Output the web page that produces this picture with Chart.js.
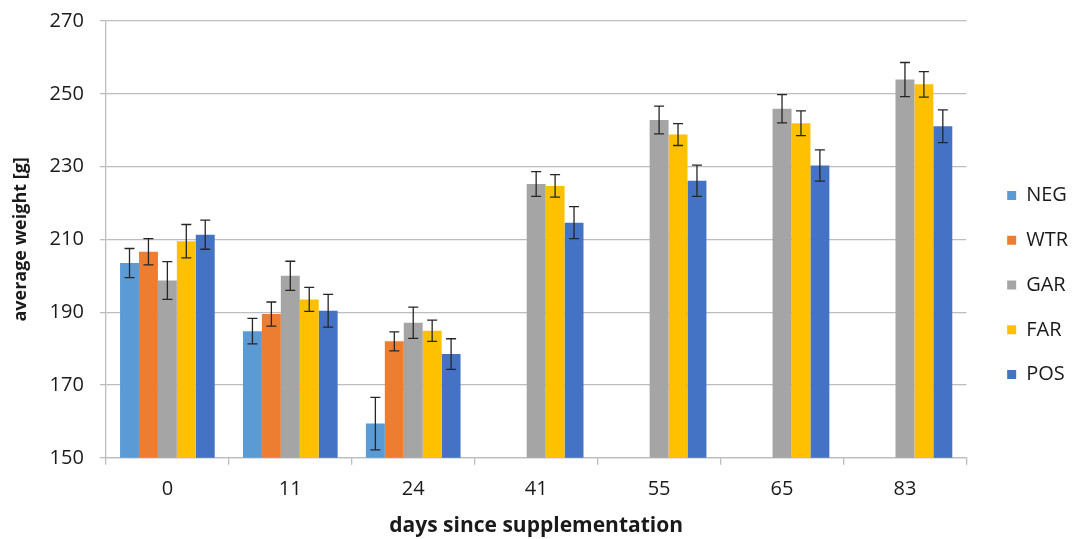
<!DOCTYPE html>
<html>
<head>
<meta charset="utf-8">
<script src="https://cdn.jsdelivr.net/npm/chart.js@4"></script>
<style>
  body { margin: 0; background: #fff; }
  #wrap { width: 1076px; height: 539px; }
</style>
</head>
<body>
<div id="wrap"><canvas id="weightChart"></canvas></div>
<script>
  const days = ['0', '11', '24', '41', '55', '65', '83'];

  const negMeans = [203.5, 184.8, 159.4, null, null, null, null];
  const wtrMeans = [206.6, 189.5, 182.0, null, null, null, null];
  const garMeans = [198.7, 200.0, 187.1, 225.2, 242.8, 245.9, 253.9];
  const farMeans = [209.5, 193.5, 184.9, 224.7, 238.8, 241.9, 252.6];
  const posMeans = [211.3, 190.4, 178.5, 214.6, 226.1, 230.3, 241.1];

  const negErr = [4.0, 3.5, 7.2, null, null, null, null];
  const wtrErr = [3.6, 3.3, 2.6, null, null, null, null];
  const garErr = [5.2, 4.0, 4.3, 3.4, 3.8, 3.9, 4.7];
  const farErr = [4.6, 3.3, 2.9, 3.1, 3.0, 3.4, 3.5];
  const posErr = [4.0, 4.5, 4.2, 4.4, 4.3, 4.3, 4.5];

  const yTicks = [150, 170, 190, 210, 230, 250, 270];

  const textColor = '#1a1a1a';
  const gridColor = '#bdbdbd';
  const fontFamily = '"Open Sans", sans-serif';

  // whiskers drawn on top of bars, using the y scale
  const errorBars = {
    id: 'errorBars',
    afterDatasetsDraw(chart) {
      const ctx = chart.ctx;
      const yScale = chart.scales.y;
      ctx.save();
      ctx.strokeStyle = '#262626';
      ctx.lineWidth = 1.3;
      chart.data.datasets.forEach((ds, i) => {
        const meta = chart.getDatasetMeta(i);
        meta.data.forEach((bar, j) => {
          const v = ds.data[j];
          const e = ds.errors[j];
          if (v == null || e == null) return;
          const x = bar.x;
          const top = yScale.getPixelForValue(v + e);
          const bottom = yScale.getPixelForValue(v - e);
          ctx.beginPath();
          ctx.moveTo(x, top);
          ctx.lineTo(x, bottom);
          ctx.moveTo(x - 5, top);
          ctx.lineTo(x + 5, top);
          ctx.moveTo(x - 5, bottom);
          ctx.lineTo(x + 5, bottom);
          ctx.stroke();
        });
      });
      ctx.restore();
    }
  };

  // push the legend a bit away from the plot area
  const legendShift = {
    id: 'legendShift',
    afterLayout(chart) {
      chart.legend.left += 16;
      chart.legend.right += 16;
    }
  };

  const ctx = document.getElementById('weightChart').getContext('2d');
  new Chart(ctx, {
    type: 'bar',
    data: {
      labels: days,
      datasets: [
        { label: 'NEG', data: negMeans, errors: negErr, backgroundColor: '#5B9BD5' },
        { label: 'WTR', data: wtrMeans, errors: wtrErr, backgroundColor: '#ED7D31' },
        { label: 'GAR', data: garMeans, errors: garErr, backgroundColor: '#A5A5A5' },
        { label: 'FAR', data: farMeans, errors: farErr, backgroundColor: '#FFC000' },
        { label: 'POS', data: posMeans, errors: posErr, backgroundColor: '#4472C4' }
      ]
    },
    options: {
      responsive: true,
      maintainAspectRatio: false,
      animation: false,
      categoryPercentage: 0.77,
      barPercentage: 1.0,
      layout: { padding: { top: 0, right: 14, bottom: 0, left: 10 } },
      plugins: {
        tooltip: { enabled: false },
        legend: {
          position: 'right',
          title: { display: true, text: ' ', padding: 0, font: { size: 26 } },
          labels: {
            boxWidth: 9,
            boxHeight: 9,
            padding: 24.75,
            color: textColor,
            font: { family: fontFamily, size: 20 }
          }
        }
      },
      scales: {
        x: {
          grid: {
            drawOnChartArea: false,
            drawTicks: true,
            tickLength: 7,
            color: gridColor,
            lineWidth: 1.3
          },
          border: { color: gridColor, width: 1.3 },
          ticks: {
            color: textColor,
            font: { family: fontFamily, size: 20 },
            padding: 12
          },
          title: {
            display: true,
            text: 'days since supplementation',
            color: textColor,
            font: { family: fontFamily, size: 21, weight: 'bold' },
            padding: { top: 1, bottom: 0 }
          }
        },
        y: {
          min: 150,
          max: 270,
          afterBuildTicks(axis) {
            axis.ticks = yTicks.map(v => ({ value: v }));
          },
          grid: {
            color: gridColor,
            lineWidth: 1.3,
            tickLength: 6
          },
          border: { color: gridColor, width: 1.3 },
          ticks: {
            color: textColor,
            // small lineHeight keeps the top label from pushing the plot down
            font: { family: fontFamily, size: 20, lineHeight: 0.5 },
            padding: 16
          },
          title: {
            display: true,
            text: 'average weight [g]',
            color: textColor,
            font: { family: fontFamily, size: 18, weight: 'bold' },
            padding: { top: 0, bottom: 2 }
          }
        }
      }
    },
    plugins: [errorBars, legendShift]
  });
</script>
</body>
</html>
